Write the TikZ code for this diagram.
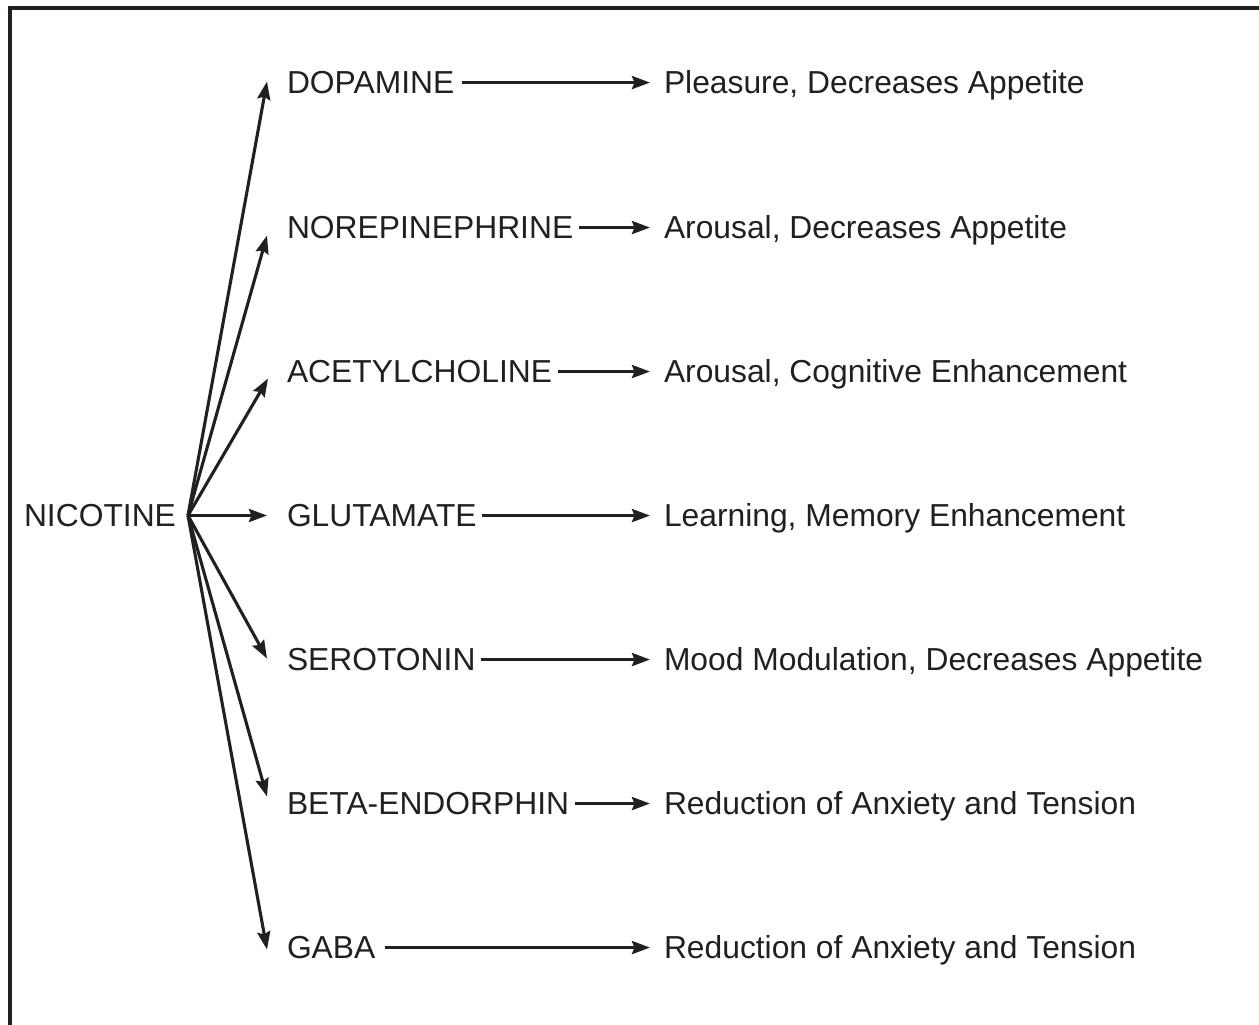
\documentclass[tikz,border=0pt]{standalone}
\usepackage{fontspec}
\setmainfont{Liberation Sans}
\usetikzlibrary{arrows.meta}
\definecolor{ink}{HTML}{231F20}
\begin{document}
\begin{tikzpicture}[x=1pt,y=-1pt,
  lbl/.style={inner sep=0pt, outer sep=0pt, anchor=base west, text=ink,
    font=\fontsize{31.8}{38}\selectfont},
  arr/.style={draw=ink, line width=3.1pt,
    -{Stealth[length=18pt,width=13pt,inset=2.5pt]}},
  frame/.style={draw=ink, line width=3.2pt}]
\useasboundingbox (0,0) rectangle (1259,1025);
\draw[frame] (10,1030) -- (10,8) -- (1265,8);
% nodes
\node[lbl] (nic) at (24,526.5) {NICOTINE};
\coordinate (o) at (188,515.5);
\node[lbl] (dop) at (287,93.5) {DOPAMINE};
\node[lbl] (nor) at (287,238.5) {NOREPINEPHRINE};
\node[lbl] (ace) at (287,382.5) {ACETYLCHOLINE};
\node[lbl] (glu) at (287,526.5) {GLUTAMATE};
\node[lbl] (ser) at (287,670.5) {SEROTONIN};
\node[lbl] (bet) at (287,814.5) {BETA-ENDORPHIN};
\node[lbl] (gab) at (287,958.5) {GABA};
\node[lbl] (e1) at (664,93.5) {Pleasure, Decreases Appetite};
\node[lbl] (e2) at (664,238.5) {Arousal, Decreases Appetite};
\node[lbl] (e3) at (664,382.5) {Arousal, Cognitive Enhancement};
\node[lbl] (e4) at (664,526.5) {Learning, Memory Enhancement};
\node[lbl] (e5) at (664,670.5) {Mood Modulation, Decreases Appetite};
\node[lbl] (e6) at (664,814.5) {Reduction of Anxiety and Tension};
\node[lbl] (e7) at (664,958.5) {Reduction of Anxiety and Tension};
% fan
\coordinate (t4) at ([xshift=-20pt]glu.west);
\draw[arr] (o) -- ([xshift=-20pt,yshift=1pt]dop.west);
\draw[arr] (o) -- ([xshift=-20pt,yshift=-8pt]nor.west);
\draw[arr] (o) -- ([xshift=-19pt,yshift=-7pt]ace.west);
\draw[arr] (o) -- (o -| t4);
\draw[arr] (o) -- ([xshift=-20pt,yshift=1pt]ser.west);
\draw[arr] (o) -- ([xshift=-20pt,yshift=7pt]bet.west);
\draw[arr] (o) -- ([xshift=-20pt,yshift=-2pt]gab.west);
% horizontal
\draw[arr] ([xshift=8pt]dop.east) -- ([xshift=-14pt]e1.west |- dop.east);
\draw[arr] ([xshift=6pt]nor.east) -- ([xshift=-14pt]e2.west |- nor.east);
\draw[arr] ([xshift=6pt]ace.east) -- ([xshift=-14pt]e3.west |- ace.east);
\draw[arr] ([xshift=5pt]glu.east) -- ([xshift=-14pt]e4.west |- glu.east);
\draw[arr] ([xshift=6pt]ser.east) -- ([xshift=-14pt]e5.west |- ser.east);
\draw[arr] ([xshift=6pt]bet.east) -- ([xshift=-14pt]e6.west |- bet.east);
\draw[arr] ([xshift=10pt]gab.east) -- ([xshift=-14pt]e7.west |- gab.east);
\end{tikzpicture}
\end{document}
